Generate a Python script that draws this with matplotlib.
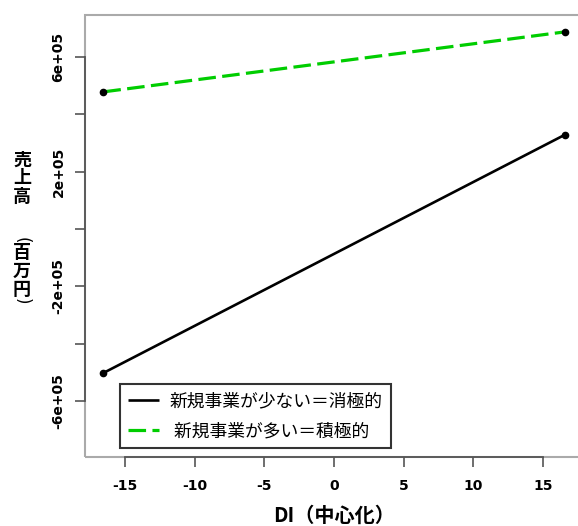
import matplotlib
matplotlib.use("Agg")
import matplotlib.pyplot as plt
from matplotlib.patches import Rectangle

# ---- data ----
di_x = [-16.55, 16.55]
low_sales = [-502000, 328000]      # 新規事業が少ない＝消極的
high_sales = [478000, 687000]      # 新規事業が多い＝積極的
series_labels = ["新規事業が少ない＝消極的", " 新規事業が多い＝積極的"]
x_ticks = [-15, -10, -5, 0, 5, 10, 15]
x_ticklabels = ["-15", "-10", "-5", "0", "5", "10", "15"]
y_ticks = [-6e5, -4e5, -2e5, 0, 2e5, 4e5, 6e5]
y_ticklabels = ["-6e+05", "", "-2e+05", "", "2e+05", "", "6e+05"]
xlabel = "DI（中心化）"
ylabel_top = "売\n上\n高"
ylabel_unit = "百\n万\n円"

W, H = 578, 526
fig = plt.figure(figsize=(W / 100, H / 100), dpi=100)
L, R, T, B = 85, 583, 15, 457
ax = fig.add_axes([L / W, 1 - B / H, (R - L) / W, (B - T) / H])

cjk = ["Noto Sans CJK JP", "DejaVu Sans"]
green = "#00CD00"

ax.plot(di_x, low_sales, color="black", lw=1.9, solid_capstyle="butt",
        label=series_labels[0], zorder=3)
ln, = ax.plot(di_x, high_sales, color=green, lw=2.3, label=series_labels[1], zorder=3)
ln.set_dashes([5.5, 2.0])
ax.plot(di_x, low_sales, "o", color="black", ms=4.5, zorder=4)
ax.plot(di_x, high_sales, "o", color="black", ms=4.5, zorder=4)

ax.set_xlim(-17.87, 17.87)
ax.set_ylim(-795000, 746000)

for s in ["top", "right"]:
    ax.spines[s].set_visible(False)
for s in ["left", "bottom"]:
    ax.spines[s].set_color("#555555")
    ax.spines[s].set_linewidth(1.3)
ax.spines["left"].set_bounds(-6e5, 6e5)
ax.spines["bottom"].set_bounds(-15, 15)
ax.add_patch(Rectangle((0, 0), 1, 1, transform=ax.transAxes, fill=False,
                       ec="#aaaaaa", lw=1.5, clip_on=False, zorder=0.5))

ax.set_xticks(x_ticks)
ax.set_xticklabels(x_ticklabels, fontweight="bold", fontsize=10, family="DejaVu Sans")
ax.set_yticks(y_ticks)
ax.set_yticklabels(y_ticklabels, fontweight="bold", fontsize=10, family="DejaVu Sans",
                   rotation=90, va="center")
ax.tick_params(axis="both", length=7, width=1.2, color="#555555")
ax.tick_params(axis="x", pad=9)
ax.tick_params(axis="y", pad=7)

ax.set_xlabel(xlabel, family=cjk, fontweight="bold", fontsize=14.5, labelpad=8)

# vertical stacked y-label
fig.text(22 / W, 1 - 178 / H, ylabel_top, family=cjk, fontweight="bold", fontsize=13,
         ha="center", va="center", linespacing=0.95, multialignment="center")
fig.text(22 / W, 1 - 271 / H, ylabel_unit, family=cjk, fontweight="bold", fontsize=13,
         ha="center", va="center", linespacing=0.95, multialignment="center")
fig.text(22 / W, 1 - 240 / H, "(", family="DejaVu Sans", fontsize=12,
         rotation=-90, rotation_mode="anchor", ha="center", va="center")
fig.text(22 / W, 1 - 301 / H, ")", family="DejaVu Sans", fontsize=12,
         rotation=-90, rotation_mode="anchor", ha="center", va="center")

leg = ax.legend(loc="lower left", bbox_to_anchor=((120 - L) / (R - L), (B - 448) / (B - T)),
                borderaxespad=0, frameon=True, fancybox=False, edgecolor="black",
                prop={"family": cjk, "size": 12.8}, handlelength=1.75, handletextpad=0.6,
                borderpad=0.45, labelspacing=0.65)
leg.get_frame().set_linewidth(1.5)

fig.savefig("out.png", dpi=100)
